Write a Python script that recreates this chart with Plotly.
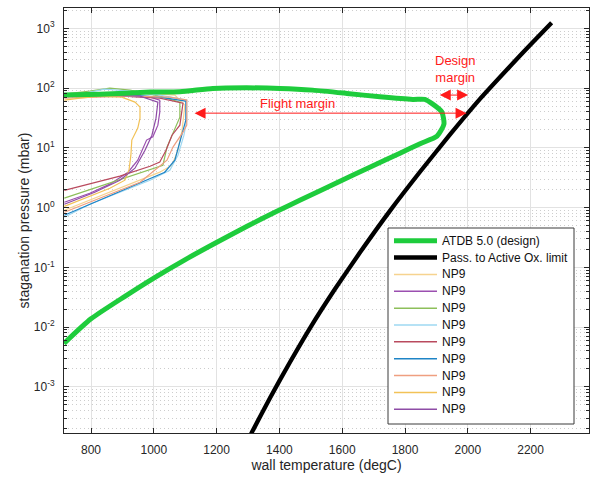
import plotly.graph_objects as go
import math

# ---------------- data ----------------
atdb_T = [714, 828, 988, 1083, 1188, 1296, 1402, 1506, 1615, 1720, 1825, 1863, 1885, 1917, 1924,
          1902, 1848, 1784, 1688, 1593, 1465, 1392, 1297, 1195, 1099, 1004, 908, 800, 714]
atdb_P = [76.4, 79, 85.7, 86.7, 98.8, 101, 98.8, 92.5, 81.5, 71.5, 64.7, 64.7, 55.5, 40.1, 25,
          15.7, 11.75, 8.15, 4.75, 2.77, 1.33, 0.871, 0.488, 0.2535, 0.134, 0.0682, 0.0328, 0.0138, 0.00535]

limit_T = [1290, 1312, 1370, 1434, 1497, 1577, 1657, 1752, 1848, 1943, 2039, 2134, 2200, 2267]
limit_P = [1.0e-4, 1.73e-4, 6.56e-4, 2.62e-3, 9.59e-3, 0.0435, 0.179, 0.883, 3.98, 16.6, 65.9, 230, 537, 1242]

np9_1_T = [715, 828, 924, 1019, 1058, 1077, 1090, 1099, 1067, 924, 828, 715]
np9_1_P = [0.904, 1.55, 2.47, 3.92, 5.13, 9.15, 19.8, 51.9, 76.4, 85.7, 82.4, 73.5]
np9_2_T = [715, 796, 860, 918, 949, 977, 997, 1013, 1019, 1019, 988, 892, 828, 765, 715]
np9_2_P = [1.23, 1.74, 2.47, 3.92, 6.22, 13.5, 15.3, 24, 39.6, 63, 70.7, 73.5, 82.4, 82.4, 76.4]
np9_3_T = [715, 828, 924, 1029, 1042, 1067, 1083, 1083, 1019, 924, 860, 796, 715]
np9_3_P = [1.44, 2.28, 3.36, 5.13, 10.3, 21.4, 32.7, 58.3, 73.5, 92.5, 100, 89.1, 79.4]
np9_4_T = [715, 796, 892, 988, 1051, 1077, 1096, 1105, 1105, 1019, 924, 844, 796, 715]
np9_4_P = [0.69, 1.14, 1.81, 2.88, 4.23, 7.55, 16.3, 29.1, 63, 76.4, 89.1, 96.2, 85.7, 73.5]
np9_5_T = [715, 796, 892, 988, 1019, 1039, 1058, 1083, 1093, 1019, 892, 796, 715]
np9_5_P = [1.95, 2.47, 3.36, 4.93, 5.77, 9.15, 16.3, 24, 56, 68, 73.5, 79.4, 73.5]
np9_6_T = [715, 828, 956, 1035, 1067, 1090, 1102, 1102, 1019, 892, 796, 715]
np9_6_P = [0.746, 1.33, 2.56, 3.92, 6.22, 16.3, 29.1, 60.6, 70.7, 79.4, 82.4, 76.4]
np9_7_T = [715, 828, 956, 1042, 1061, 1093, 1105, 1105, 1051, 924, 828, 715]
np9_7_P = [0.838, 1.44, 2.66, 6.22, 10.3, 18.3, 24, 63, 70.7, 73.5, 70.7, 68]
np9_8_T = [715, 796, 860, 908, 921, 927, 930, 949, 956, 956, 940, 898, 828, 765, 715]
np9_8_P = [1.05, 1.55, 2.11, 2.88, 4.23, 7.55, 13.5, 21.4, 31.4, 48.1, 58.3, 70.7, 73.5, 68, 63]
np9_9_T = [715, 812, 892, 940, 972, 994, 1007, 1013, 956, 828, 715]
np9_9_P = [1.14, 1.81, 2.88, 4.57, 9.15, 16.3, 31.4, 58.3, 73.5, 76.4, 73.5]

np9_T = [np9_1_T, np9_2_T, np9_3_T, np9_4_T, np9_5_T, np9_6_T, np9_7_T, np9_8_T, np9_9_T]
np9_P = [np9_1_P, np9_2_P, np9_3_P, np9_4_P, np9_5_P, np9_6_P, np9_7_P, np9_8_P, np9_9_P]
np9_colors = ["#F6D38F", "#9B4FB0", "#8DBF5A", "#9ED8F2", "#B94A5E",
              "#1E84C6", "#EF9F80", "#F2C257", "#8E4CA6"]

legend_labels = ["ATDB 5.0 (design)", "Pass. to Active Ox. limit"] + ["NP9"] * 9

xtick_vals = [800, 1000, 1200, 1400, 1600, 1800, 2000, 2200]
ytick_vals = [1e-3, 1e-2, 1e-1, 1e0, 1e1, 1e2, 1e3]
ytick_text = ["10<sup>-3</sup>", "10<sup>-2</sup>", "10<sup>-1</sup>", "10<sup>0</sup>",
              "10<sup>1</sup>", "10<sup>2</sup>", "10<sup>3</sup>"]

# annotation anchor values (data units)
flight_arrow_T = [1125, 1996]
flight_arrow_P = 38.1
design_arrow_T = [1906, 2001]
design_arrow_P = 76.4

# ---------------- figure ----------------
GREEN = "#1ECC3C"
FONT = "Liberation Sans, Arial, Helvetica, sans-serif"
AXC = "#262626"

fig = go.Figure()
for T, P, c in zip(np9_T, np9_P, np9_colors):
    fig.add_trace(go.Scatter(x=T, y=P, mode="lines", line=dict(color=c, width=1.2),
                             showlegend=False, hoverinfo="skip"))
fig.add_trace(go.Scatter(x=atdb_T, y=atdb_P, mode="lines",
                         line=dict(color=GREEN, width=5, shape="spline", smoothing=0.6),
                         showlegend=False))
fig.add_trace(go.Scatter(x=limit_T, y=limit_P, mode="lines",
                         line=dict(color="black", width=4.3, shape="spline", smoothing=0.5),
                         showlegend=False))

W, H = 591, 478
L, R, Tm, B = 64, 589, 8, 433


def pxx(x):
    return (x - L) / (R - L)


def pyy(y):
    return 1 - (y - Tm) / (B - Tm)


shapes = []
annotations = []

# manual legend (MATLAB-style compact rows)
shapes.append(dict(type="rect", xref="paper", yref="paper", x0=pxx(388), x1=pxx(574),
                   y0=pyy(424), y1=pyy(228), fillcolor="white",
                   line=dict(color="#3a3a3a", width=1), layer="above"))
leg_colors = [GREEN, "black"] + np9_colors
leg_widths = [5, 4.5] + [1.5] * 9
for i, (lab, c, w) in enumerate(zip(legend_labels, leg_colors, leg_widths)):
    yc = 240.7 + i * 16.86
    shapes.append(dict(type="line", xref="paper", yref="paper", x0=pxx(394), x1=pxx(437),
                       y0=pyy(yc), y1=pyy(yc), line=dict(color=c, width=w), layer="above"))
    annotations.append(dict(xref="paper", yref="paper", x=pxx(440), y=pyy(yc), text=lab,
                            showarrow=False, xanchor="left", yanchor="middle",
                            font=dict(family=FONT, size=12, color="#111111")))

# arrows
for xs, yv in [(flight_arrow_T, flight_arrow_P), (design_arrow_T, design_arrow_P)]:
    annotations.append(dict(x=xs[1], y=math.log10(yv), ax=xs[0], ay=math.log10(yv),
                            xref="x", yref="y", axref="x", ayref="y", text="",
                            showarrow=True, arrowhead=2, arrowside="end+start",
                            arrowsize=2.2, arrowwidth=1, arrowcolor="#FF1A1A",
                            standoff=0, startstandoff=0))
annotations.append(dict(x=1457, y=math.log10(55.5), xref="x", yref="y", text="Flight margin",
                        showarrow=False, font=dict(family=FONT, size=13, color="#FF1A1A")))
annotations.append(dict(x=1959, y=math.log10(210), xref="x", yref="y", text="Design<br>margin",
                        showarrow=False, font=dict(family=FONT, size=13, color="#FF1A1A")))

fig.update_layout(
    width=W, height=H,
    margin=dict(l=L, r=W - R, t=Tm, b=H - B),
    plot_bgcolor="white", paper_bgcolor="white",
    font=dict(family=FONT, size=12, color=AXC),
    showlegend=False,
    shapes=shapes, annotations=annotations,
)
fig.update_xaxes(
    range=[714, 2386], tickmode="array", tickvals=xtick_vals,
    ticks="inside", ticklen=5, tickcolor=AXC, tickwidth=1, ticklabelstandoff=6,
    showline=True, linecolor=AXC, linewidth=1, mirror="ticks",
    showgrid=True, gridcolor="#E2E2E2", gridwidth=1, zeroline=False,
    tickfont=dict(size=12, color=AXC),
    title=dict(text="wall temperature (degC)", font=dict(size=14, color=AXC), standoff=3),
)
minor_vals = [m * 10 ** e for e in range(-4, 4) for m in range(2, 10)]
fig.update_yaxes(
    type="log", range=[-3.77, 3.34], tickmode="array", tickvals=ytick_vals, ticktext=ytick_text,
    ticks="inside", ticklen=5, tickcolor=AXC, tickwidth=1, ticklabelstandoff=6,
    showline=True, linecolor=AXC, linewidth=1, mirror="ticks",
    showgrid=True, gridcolor="#E2E2E2", gridwidth=1, zeroline=False,
    tickfont=dict(size=12, color=AXC),
    minor=dict(tickmode="array", tickvals=minor_vals, ticks="inside", ticklen=3,
               tickcolor=AXC, showgrid=True, gridcolor="#CDCDCD", griddash="1px,3px", gridwidth=1),
    title=dict(text="staganation pressure (mbar)", font=dict(size=14, color=AXC), standoff=0),
)

fig.write_html("out.html")
